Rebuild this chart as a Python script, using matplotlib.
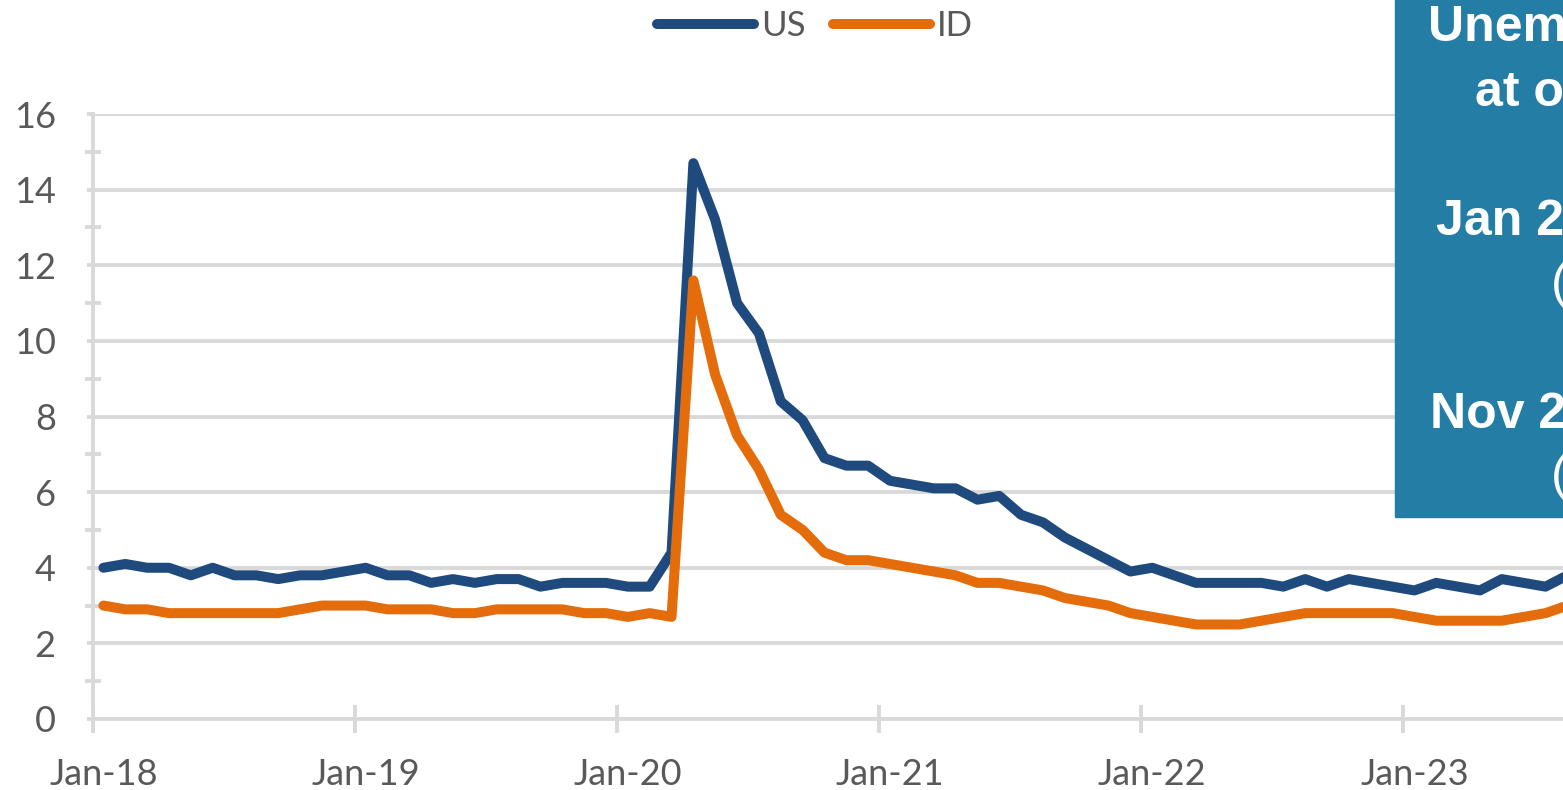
import matplotlib
matplotlib.use("Agg")
import matplotlib.pyplot as plt
from matplotlib.patches import Rectangle
from matplotlib.ticker import FixedLocator

# monthly unemployment rate, Jan 2018 .. Aug 2023
us = [4.0, 4.1, 4.0, 4.0, 3.8, 4.0, 3.8, 3.8, 3.7, 3.8, 3.8, 3.9,
      4.0, 3.8, 3.8, 3.6, 3.7, 3.6, 3.7, 3.7, 3.5, 3.6, 3.6, 3.6,
      3.5, 3.5, 4.4, 14.7, 13.2, 11.0, 10.2, 8.4, 7.9, 6.9, 6.7, 6.7,
      6.3, 6.2, 6.1, 6.1, 5.8, 5.9, 5.4, 5.2, 4.8, 4.5, 4.2, 3.9,
      4.0, 3.8, 3.6, 3.6, 3.6, 3.6, 3.5, 3.7, 3.5, 3.7, 3.6, 3.5,
      3.4, 3.6, 3.5, 3.4, 3.7, 3.6, 3.5, 3.8]
idaho = [3.0, 2.9, 2.9, 2.8, 2.8, 2.8, 2.8, 2.8, 2.8, 2.9, 3.0, 3.0,
         3.0, 2.9, 2.9, 2.9, 2.8, 2.8, 2.9, 2.9, 2.9, 2.9, 2.8, 2.8,
         2.7, 2.8, 2.7, 11.6, 9.1, 7.5, 6.6, 5.4, 5.0, 4.4, 4.2, 4.2,
         4.1, 4.0, 3.9, 3.8, 3.6, 3.6, 3.5, 3.4, 3.2, 3.1, 3.0, 2.8,
         2.7, 2.6, 2.5, 2.5, 2.5, 2.6, 2.7, 2.8, 2.8, 2.8, 2.8, 2.8,
         2.7, 2.6, 2.6, 2.6, 2.6, 2.7, 2.8, 3.0]
year_labels = ["Jan-18", "Jan-19", "Jan-20", "Jan-21", "Jan-22", "Jan-23"]
box_lines = ["Unemployment rate", "at or below", "Jan 2020", "(3.5%)",
             "Nov 2023", "(3.7%)"]

W, H = 1563, 790
GRID = "#D9D9D9"
TXT = "#595959"
plt.rcParams["font.family"] = ["Lato", "DejaVu Sans"]

fig = plt.figure(figsize=(W / 100, H / 100), dpi=100)
# axes run past the right edge, the reference is cropped there
ax = fig.add_axes([92.5 / W, 71 / H, 72 * 21.85 / W, 605 / H])

months = list(range(len(us)))
ax.plot(months, us, color="#1F4A7D", lw=7.2, solid_joinstyle="round",
        solid_capstyle="round", label="US", zorder=3)
ax.plot(months, idaho, color="#E46C0A", lw=7.2, solid_joinstyle="round",
        solid_capstyle="round", label="ID", zorder=4)

ax.set_xlim(-0.5, 71.5)
ax.set_ylim(0, 16)

ax.set_yticks(range(0, 17, 2))
ax.yaxis.set_minor_locator(FixedLocator(range(1, 16, 2)))
ax.grid(axis="y", color=GRID, lw=2.8, zorder=0)
ax.set_axisbelow(True)

ax.set_xticks([12 * k for k in range(len(year_labels))])
ax.set_xticklabels(year_labels)
ax.xaxis.set_minor_locator(FixedLocator([12 * k - 0.5 for k in range(len(year_labels))]))

ax.tick_params(axis="y", which="major", direction="out", length=4.5, width=2.8,
               color=GRID, labelsize=26, labelcolor=TXT, pad=22)
ax.tick_params(axis="y", which="minor", direction="inout", length=11, width=2.8, color=GRID)
ax.tick_params(axis="x", which="major", length=0, labelsize=26, labelcolor=TXT, pad=28)
ax.tick_params(axis="x", which="minor", direction="inout", length=20, width=2.8, color=GRID)

for s in ["top", "right"]:
    ax.spines[s].set_visible(False)
for s in ["left", "bottom"]:
    ax.spines[s].set_color(GRID)
    ax.spines[s].set_linewidth(2.8)

leg = fig.legend(loc="center", bbox_to_anchor=(815 / W, 1 - 26 / H), ncol=2,
                 frameon=False, fontsize=25, handlelength=2.8, handletextpad=0.2,
                 columnspacing=0.8, labelcolor=TXT)
for h in leg.get_lines():
    h.set_solid_capstyle("round")

# teal call-out box, cut off by the right edge
fig.patches.append(Rectangle((1395 / W, 1 - 517 / H), 0.3, 0.7,
                             transform=fig.transFigure, color="#247DA4", zorder=5))
box_pos = [(1428, 41), (1475, 106), (1436, 235), (1551, 298), (1430, 428), (1551, 490)]
for txt, (px, py) in zip(box_lines, box_pos):
    bold = not txt.startswith("(")
    fig.text(px / W, 1 - py / H, txt, color="white", fontsize=36,
             fontweight="bold" if bold else "normal",
             family=["Liberation Sans", "DejaVu Sans"],
             ha="left", va="baseline", zorder=6)

fig.savefig("out.png", dpi=100)
